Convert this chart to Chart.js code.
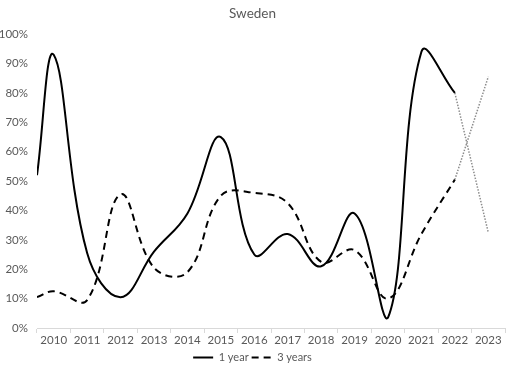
<!DOCTYPE html>
<html>
<head>
<meta charset="utf-8">
<script src="https://cdn.jsdelivr.net/npm/chart.js@4"></script>
<style>
  body { margin: 0; background: #fff; }
  #wrap { width: 514px; height: 373px; }
</style>
</head>
<body>
<div id="wrap"><canvas id="grafico"></canvas></div>
<script>
// years on the axis, values in %
const years = [2010, 2011, 2012, 2013, 2014, 2015, 2016, 2017, 2018, 2019, 2020, 2021, 2022, 2023];
const lineYears = [2010, 2011, 2012, 2013, 2014, 2015, 2016, 2017, 2018, 2019, 2020, 2021, 2022];
const startYear = 2009.5;
const oneYearStart = 52;
const threeYearsStart = 10.5;
const oneYear = [93, 25.5, 10.5, 26, 39, 65, 25, 32, 21, 39, 3.5, 94, 80];
const threeYears = [12.5, 9.5, 45.5, 20.5, 19, 45, 46, 42.5, 22.5, 26.5, 10, 32, 50.5];
const outlookYears = [2022, 2023];
const oneYearOutlook = [80, 32.5];
const threeYearsOutlook = [50.5, 85.5];

const fuente = "Lato, 'Liberation Sans', sans-serif";
const gris = '#595959';

function puntos(x0, y0, xs, ys) {
  let pts = [];
  if (x0 !== null) pts.push({ x: x0, y: y0 });
  for (let i = 0; i < xs.length; i++) {
    pts.push({ x: xs[i], y: ys[i] });
  }
  return pts;
}

let ctx = document.getElementById('grafico').getContext('2d');

new Chart(ctx, {
  type: 'line',
  data: {
    datasets: [{
      label: '1 year',
      data: puntos(startYear, oneYearStart, lineYears, oneYear),
      borderColor: '#000000',
      borderWidth: 2,
      tension: 0.4,
      pointRadius: 0
    }, {
      label: '3 years',
      data: puntos(startYear, threeYearsStart, lineYears, threeYears),
      borderColor: '#000000',
      borderWidth: 2,
      borderDash: [7, 5],
      tension: 0.4,
      pointRadius: 0
    }, {
      label: 'outlook1',
      data: puntos(null, null, outlookYears, oneYearOutlook),
      borderColor: '#8c8c8c',
      borderWidth: 1.5,
      borderDash: [1.5, 1.5],
      tension: 0,
      pointRadius: 0
    }, {
      label: 'outlook3',
      data: puntos(null, null, outlookYears, threeYearsOutlook),
      borderColor: '#8c8c8c',
      borderWidth: 1.5,
      borderDash: [1.5, 1.5],
      tension: 0,
      pointRadius: 0
    }]
  },
  options: {
    responsive: true,
    maintainAspectRatio: false,
    animation: false,
    layout: { padding: { left: 0, right: 9, top: 0, bottom: 0 } },
    plugins: {
      title: {
        display: true,
        text: 'Sweden',
        color: gris,
        font: { family: fuente, size: 13.5, weight: 'normal' },
        padding: { top: 6, bottom: 12 }
      },
      legend: {
        position: 'bottom',
        labels: {
          color: gris,
          font: { family: fuente, size: 11 },
          usePointStyle: true,
          pointStyle: 'line',
          pointStyleWidth: 20,
          padding: 3,
          generateLabels: function (chart) {
            let items = Chart.defaults.plugins.legend.labels.generateLabels(chart);
            items.forEach(function (it) {
              it.lineDash = chart.data.datasets[it.datasetIndex].borderDash || [];
            });
            return items;
          },
          filter: function (item) { return item.datasetIndex < 2; }
        }
      },
      tooltip: { enabled: false }
    },
    scales: {
      x: {
        type: 'linear',
        min: 2009.5,
        max: 2023.5,
        afterBuildTicks: function (axis) {
          axis.ticks = years.map(function (y) { return { value: y }; });
        },
        afterFit: function (axis) { axis.height = 21; },
        ticks: {
          color: gris,
          font: { family: fuente, size: 11.5 },
          autoSkip: false,
          maxRotation: 0,
          padding: 0,
          callback: function (v) { return String(v); }
        },
        grid: {
          offset: true,
          drawOnChartArea: false,
          drawTicks: true,
          tickLength: 5,
          color: '#d9d9d9'
        },
        border: { display: true, color: '#d9d9d9' }
      },
      y: {
        min: 0,
        max: 100,
        afterFit: function (axis) { axis.width = 37; },
        ticks: {
          stepSize: 10,
          color: gris,
          font: { family: fuente, size: 11.5 },
          padding: 9,
          callback: function (v) { return v + '%'; }
        },
        grid: { display: false, drawTicks: false },
        border: { display: false }
      }
    }
  }
});
</script>
</body>
</html>
